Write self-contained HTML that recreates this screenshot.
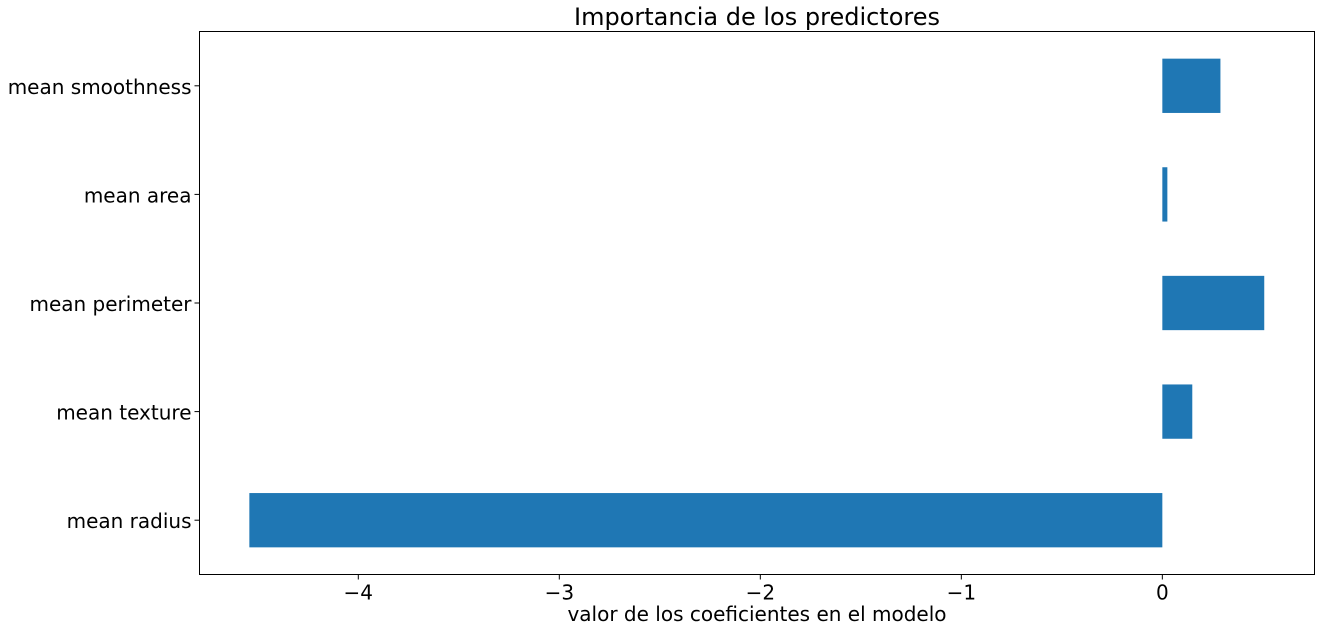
<!DOCTYPE html>
<html><head><meta charset="utf-8"><style>
html,body{margin:0;padding:0;background:#fff;}
svg{display:block;font-family:"DejaVu Sans","Liberation Sans",sans-serif;}
</style></head><body>
<svg id="chart" width="1325" height="631" viewBox="0 0 1325 631" xmlns="http://www.w3.org/2000/svg">
<text x="757" y="25" font-size="24" text-anchor="middle" fill="#000">Importancia de los predictores</text>
<g id="bars"></g>
<g id="xticks"></g>
<g id="yticks"></g>
<rect x="199.5" y="31.5" width="1115" height="543" fill="none" stroke="#000" stroke-width="1"/>
<text x="757" y="621" font-size="20" text-anchor="middle" fill="#000">valor de los coeficientes en el modelo</text>
</svg>
<script>
const categories = ["mean radius","mean texture","mean perimeter","mean area","mean smoothness"];
const values = [-4.542, 0.149, 0.507, 0.025, 0.289];
const xTicks = [-4,-3,-2,-1,0];
const xTickLabels = ["\u22124","\u22123","\u22122","\u22121","0"];

const L=199.5,R=1314.5,T=31.5,B=574.5;
const xMin=-4.79,xMax=0.757;
const x=v=>L+(v-xMin)/(xMax-xMin)*(R-L);
const yMin=-0.5,yMax=4.5;
const y=i=>B-(i-yMin)/(yMax-yMin)*(B-T);
const bandH=(B-T)/(yMax-yMin);
const NS="http://www.w3.org/2000/svg";
const bars=document.getElementById('bars'),xt=document.getElementById('xticks'),yt=document.getElementById('yticks');
categories.forEach((c,i)=>{
  const v=values[i];
  const r=document.createElementNS(NS,'rect');
  
  
  r.setAttribute('x',Math.min(x(0),x(v)));
  r.setAttribute('width',Math.abs(x(v)-x(0)));
  r.setAttribute('y',y(i)-bandH*0.25);
  r.setAttribute('height',bandH*0.5);
  r.setAttribute('fill','#1f77b4');
  bars.appendChild(r);
  const tk=document.createElementNS(NS,'line');
  
  
  tk.setAttribute('x1',L-5);tk.setAttribute('x2',L);tk.setAttribute('y1',y(i));tk.setAttribute('y2',y(i));
  tk.setAttribute('stroke','#000');
  yt.appendChild(tk);
  const t=document.createElementNS(NS,'text');
  
  
  t.setAttribute('x',L-8);t.setAttribute('y',y(i)+8);
  t.setAttribute('text-anchor','end');t.setAttribute('font-size','20');
  t.textContent=c;
  yt.appendChild(t);
});
xTicks.forEach((v,i)=>{
  const tk=document.createElementNS(NS,'line');
  
  
  tk.setAttribute('x1',x(v));tk.setAttribute('x2',x(v));tk.setAttribute('y1',B);tk.setAttribute('y2',B+5);
  tk.setAttribute('stroke','#000');
  xt.appendChild(tk);
  const t=document.createElementNS(NS,'text');
  
  
  t.setAttribute('x',x(v));t.setAttribute('y',B+25);
  t.setAttribute('text-anchor','middle');t.setAttribute('font-size','20');
  t.textContent=xTickLabels[i];
  xt.appendChild(t);
});
</script>
</body></html>
